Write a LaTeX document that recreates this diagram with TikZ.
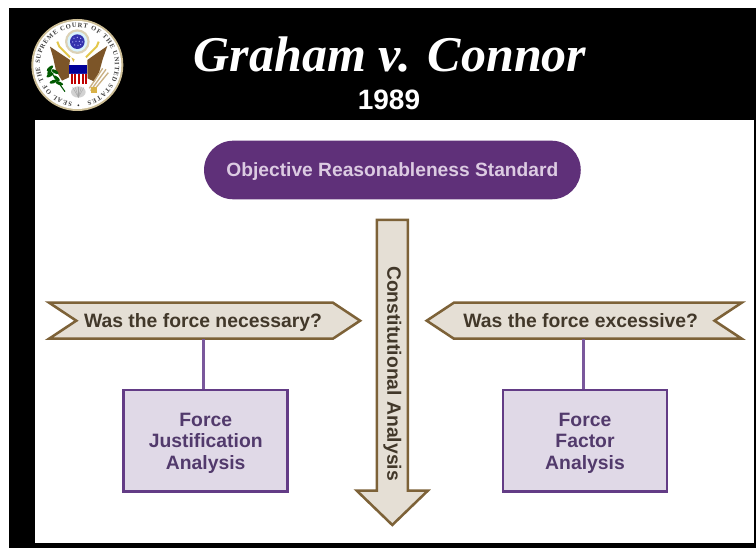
\documentclass[tikz,border=0pt]{standalone}
\usepackage{fontspec}
\setmainfont{Liberation Sans}
\newfontfamily\ttlfont{Liberation Serif}
\usetikzlibrary{shapes.symbols,shapes.arrows,decorations.text}
\definecolor{blackbg}{HTML}{000000}
\definecolor{pillfill}{HTML}{5F3079}
\definecolor{pilltext}{HTML}{DCCBE2}
\definecolor{tanline}{HTML}{7D6238}
\definecolor{tanfill}{HTML}{E5DFD5}
\definecolor{tantext}{HTML}{42382A}
\definecolor{boxline}{HTML}{633C86}
\definecolor{boxfill}{HTML}{E0D9E7}
\definecolor{boxtext}{HTML}{523A6C}
\definecolor{linkline}{HTML}{7A589C}
\definecolor{wing}{HTML}{7C5528}
\definecolor{gold}{HTML}{E3C74A}
\definecolor{rim}{HTML}{CDBE96}
\tikzset{
  sign/.style={signal,draw=tanline,fill=tanfill,text=tantext,line width=1.9pt,
    font=\fontsize{14.5pt}{16pt}\selectfont\bfseries,minimum height=36*0.75pt,
    text height=10.4pt,text depth=0pt,
    inner sep=0pt,signal pointer angle=67},
  factorbox/.style={rectangle,draw=boxline,fill=boxfill,text=boxtext,line width=1.9pt,
    align=center,font=\fontsize{14.5pt}{16.1pt}\selectfont\bfseries,
    minimum width=164*0.75pt,minimum height=101.7*0.75pt,inner sep=0pt},
  link/.style={draw=linkline,line width=2pt}
}
\begin{document}
\begin{tikzpicture}[x=.75pt,y=-.75pt]
\useasboundingbox (0,0) rectangle (756,548);
\fill[white] (0,0) rectangle (756,548);
\fill[blackbg] (9,8) rectangle (755.5,548);
\fill[white] (35,120) rectangle (754,543);
% seal, in 3x zoom coordinates
\begin{scope}[x=.25pt,y=-.25pt]
\fill[rim] (232,195) circle (138);
\fill[white] (232,195) circle (132);
\fill[rim!70] (232,125) circle (37);
\fill[white!85!cyan] (232,125) circle (30);
\fill[blue!60!black!80] (232,125) circle (22);
\foreach \a/\b in {222/115,232/112,242/115,218/126,228/124,238/124,247/126,224/135,234/136,242/134}
  \fill[white!70!blue] (\a,\b) circle (2);
\fill[wing] (210,180)--(180,160)--(150,140)--(160,175)--(168,212)--(186,242)--(207,232)--(208,195)--cycle;
\fill[wing] (262,180)--(290,160)--(322,138)--(308,178)--(298,215)--(284,245)--(262,235)--(262,195)--cycle;
\draw[gold,line width=1.5pt] (172,125)--(178,140)--(210,172);
\draw[gold,line width=1.5pt] (296,125)--(290,140)--(258,172);
\fill[white] (222,168)--(248,164)--(252,178)--(240,192)--(226,192)--cycle;
\fill[gold!80!brown] (214,172)--(224,178)--(220,186)--cycle;
\fill[blue!60!black] (208,195) rectangle (262,222);
\fill[white] (208,222)--(262,222)--(262,240)--(250,254)--(235,262)--(220,254)--(208,240)--cycle;
\foreach \a in {212,223,234,245,256}
  \fill[red!75!black] (\a,222) rectangle ++(5.5,30);
\fill[gray!35] (235,276) ellipse (22 and 17);
\foreach \a in {218,226,235,244,252}
  \draw[gray!70,line width=.3pt] (235,292)--(\a,262);
\foreach \a/\b/\r in {150/205/40,165/215/-30,150/225/30,170/235/-40,160/245/20,178/250/-20,148/215/70}
  \fill[green!35!black] (\a,\b) ellipse[x radius=12,y radius=5,rotate=\r];
\draw[green!35!black,line width=.8pt] (145,205)--(195,275);
\foreach \a/\b/\c/\d in {272/272/318/208,278/275/325/218,268/265/308/205}
  \draw[rim!80!brown,line width=1pt] (\a,\b)--(\c,\d);
\fill[gold!70!brown] (272,260) rectangle (290,278);
\fill[black!80] (235,316) circle (3);
\end{scope}
\begin{scope}[shift={(77.5,65)},y=.75pt]
\path[decorate,decoration={text along path,text align=fit to path,
  text={|\fontsize{4.9pt}{6pt}\ttlfont\bfseries\color{black!75}|SEAL OF THE SUPREME COURT OF THE UNITED STATES}}]
  (262:37.5) arc[start angle=262,end angle=-75,radius=37.5];
\end{scope}
% heading
\node[anchor=base,text=white,font=\fontsize{37.5pt}{40pt}\ttlfont\bfseries\itshape,inner sep=0pt] (title) at (390,71.7) {Graham v. Connor};
\node[anchor=base,text=white,font=\fontsize{21pt}{24pt}\selectfont\bfseries,inner sep=0pt] (year) at (389,110) {1989};
% diagram
\node[rectangle,rounded corners=21.9pt,fill=pillfill,text=pilltext,minimum width=376.7*0.75pt,minimum height=58.6*0.75pt,
  text height=10.4pt,text depth=0pt,
  font=\fontsize{14.4pt}{16pt}\selectfont\bfseries] (standard) at (392.4,170) {Objective Reasonableness Standard};
\node[single arrow,rotate=-90,draw=tanline,fill=tanfill,text=tantext,line width=1.9pt,
  minimum height=305*0.75pt,minimum width=71*0.75pt,single arrow head extend=15*0.75pt,single arrow tip angle=92,
  single arrow head indent=0pt,inner sep=1pt,font=\fontsize{14.5pt}{16pt}\selectfont\bfseries,anchor=center] (constitutional) at (392.3,365) {\hspace*{12.75pt}Constitutional Analysis};
\node[sign,signal from=west,signal to=east,minimum width=311*0.75pt] (necessary) at (204.6,320.7) {Was the force necessary?\hspace*{2.4pt}};
\node[sign,signal from=east,signal to=west,minimum width=315*0.75pt] (excessive) at (584.2,320.7) {Was the force excessive?\hspace*{5.2pt}};
\node[factorbox] (justification) at (205.7,440.8) {\rule{0pt}{13.4pt}Force\\Justification\\Analysis};
\node[factorbox] (factor) at (585,440.8) {\rule{0pt}{13.4pt}Force\\Factor\\Analysis};
\coordinate (necessarylink) at (203.3,338.7);
\coordinate (excessivelink) at (583.3,338.7);
\draw[link] (necessarylink) -- (necessarylink |- justification.north);
\draw[link] (excessivelink) -- (excessivelink |- factor.north);
\end{tikzpicture}
\end{document}
